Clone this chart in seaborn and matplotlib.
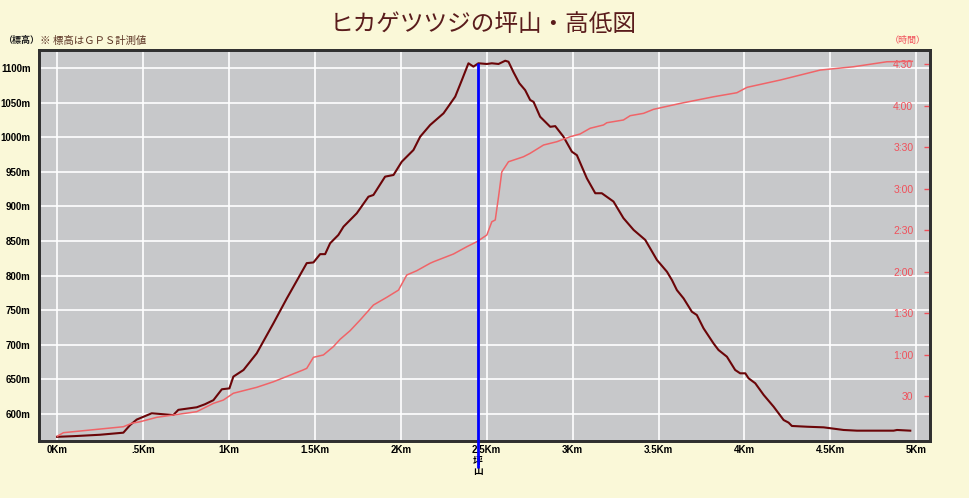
import matplotlib
matplotlib.use("Agg")
import matplotlib.pyplot as plt
import seaborn as sns
import pandas as pd

# ---------------- data ----------------
elev_km = [0.00, 0.10, 0.25, 0.386, 0.425, 0.464, 0.551, 0.60, 0.677, 0.706, 0.813, 0.86,
           0.91, 0.959, 1.003, 1.026, 1.085, 1.162, 1.259, 1.337, 1.453, 1.492, 1.531, 1.56,
           1.589, 1.637, 1.667, 1.744, 1.812, 1.841, 1.909, 1.958, 2.006, 2.074, 2.113, 2.171,
           2.249, 2.317, 2.356, 2.394, 2.423, 2.452, 2.501, 2.530, 2.569, 2.608, 2.627, 2.656,
           2.69, 2.724, 2.753, 2.773, 2.811, 2.870, 2.899, 2.947, 2.996, 3.025, 3.083, 3.132,
           3.170, 3.238, 3.296, 3.355, 3.423, 3.491, 3.549, 3.578, 3.607, 3.646, 3.694, 3.723,
           3.762, 3.82, 3.849, 3.898, 3.946, 3.975, 4.005, 4.024, 4.063, 4.112, 4.17, 4.228,
           4.257, 4.276, 4.364, 4.461, 4.577, 4.655, 4.868, 4.888, 4.965]
elev_m = [567, 568, 570, 573, 584, 592, 601, 600, 598.6, 606, 609.7, 614,
          620, 635.7, 637, 654, 663.6, 687.7, 731, 767, 818, 819, 831, 831,
          846.7, 858.7, 870.7, 890, 914, 916.5, 943, 945.4, 964.6, 981.5, 1000.7, 1017.6,
          1034.5, 1058.6, 1082.7, 1106.8, 1102, 1106.8, 1105.8, 1106.8, 1105.8, 1110.5, 1109, 1094,
          1078, 1068, 1053.8, 1051, 1029.6, 1015, 1016, 1000.7, 979, 974, 940.6, 919,
          919, 907, 883, 866, 851.5, 822.5, 805.6, 793.6, 779, 767, 747.8, 743,
          723.8, 702, 692.5, 682.8, 663.6, 658.8, 658.8, 651.6, 644.4, 627.5, 610.5, 591.3,
          587.5, 582.7, 581.6, 580.7, 576.9, 575.9, 575.9, 576.9, 575.9]

time_km = [0.002, 0.037, 0.386, 0.435, 0.483, 0.58, 0.677, 0.813, 0.91, 0.968, 1.026, 1.162,
           1.259, 1.431, 1.453, 1.492, 1.55, 1.608, 1.647, 1.705, 1.764, 1.841, 1.919, 1.987,
           2.035, 2.093, 2.171, 2.191, 2.307, 2.385, 2.443, 2.501, 2.530, 2.55, 2.569, 2.588,
           2.627, 2.714, 2.753, 2.831, 2.909, 2.986, 3.044, 3.102, 3.180, 3.199, 3.296, 3.335,
           3.413, 3.471, 3.627, 3.821, 3.956, 4.015, 4.209, 4.441, 4.635, 4.829, 4.977]
time_min = [1, 3.5, 7.8, 10.3, 11.4, 14.6, 16.3, 18.7, 24.7, 27.1, 32, 36.3,
            40.3, 48.8, 50, 58, 59.7, 65.7, 71, 77.2, 85, 95.8, 101.4, 106.6,
            117.5, 120.6, 126, 127.1, 132.7, 138, 141.6, 146.4, 156, 157.3, 174, 192,
            199.4, 203, 205.5, 211.5, 213.9, 217.5, 219.5, 223.6, 226, 227.6, 229.6, 232.7,
            234.4, 237.3, 241.6, 246.4, 249.3, 253.2, 258.5, 265.7, 268.1, 271.7, 272]

km_ticks = [0, 0.5, 1, 1.5, 2, 2.5, 3, 3.5, 4, 4.5, 5]
km_labels = ["0Km", ".5Km", "1Km", "1.5Km", "2Km", "2.5Km", "3Km", "3.5Km", "4Km", "4.5Km", "5Km"]
elev_ticks = [600, 650, 700, 750, 800, 850, 900, 950, 1000, 1050, 1100]
elev_labels = [f"{v}m" for v in elev_ticks]
time_ticks = [30, 60, 90, 120, 150, 180, 210, 240, 270]
time_labels = ["30", "1:00", "1:30", "2:00", "2:30", "3:00", "3:30", "4:00", "4:30"]

summit_km = 2.45
summit_m = 1107
summit_name = "坪\n山"

title = "ヒカゲツツジの坪山・高低図"
left_label = "（標高）"
note = "※ 標高はＧＰＳ計測値"
right_label = "（時間）"

# ---------------- style ----------------
CJK = ["Noto Sans CJK JP", "DejaVu Sans"]
BG = "#FAF8D8"
PLOT_BG = "#C7C8CA"
ELEV_C = "#6B0508"
TIME_C = "#F06468"
RED_T = "#F0505A"

elev_df = pd.DataFrame({"km": elev_km, "m": elev_m})
time_df = pd.DataFrame({"km": time_km, "min": time_min})

fig = plt.figure(figsize=(9.7, 4.98), dpi=100, facecolor=BG)
ax = fig.add_axes([0.0402, 0.1145, 0.9186, 0.7851])
ax.set_facecolor(PLOT_BG)
ax2 = ax.twinx()

ax.set_xlim(-0.105, 5.08)
ax.set_ylim(561, 1126)
ax2.set_ylim(-2.5, 280.2)

ax.grid(True, color="white", lw=1.2)
ax.set_axisbelow(True)

sns.lineplot(data=time_df, x="km", y="min", ax=ax2, color=TIME_C, lw=1.1,
             sort=False, estimator=None, legend=False)
sns.lineplot(data=elev_df, x="km", y="m", ax=ax, color=ELEV_C, lw=1.5,
             sort=False, estimator=None, legend=False)

ax2.vlines(summit_km, -22, (summit_m - 561) / (1126 - 561) * 282.7 - 2.5,
           colors="#0000FF", lw=2, clip_on=False, zorder=5)
ax.text(summit_km, 540, summit_name, ha="center", va="top", fontsize=7,
        family=CJK, fontweight="bold", linespacing=1.0, clip_on=False)

ax.set_xticks(km_ticks, labels=km_labels)
ax.set_yticks(elev_ticks, labels=elev_labels)
ax.tick_params(axis="x", length=0, pad=3, labelsize=7)
ax.tick_params(axis="y", length=0, pad=6, labelsize=7)
for lab in ax.get_xticklabels() + ax.get_yticklabels():
    lab.set_fontfamily("Liberation Sans")
    lab.set_fontweight("bold")
ax.set_xlabel("")
ax.set_ylabel("")

ax2.set_yticks(time_ticks, labels=time_labels)
ax2.tick_params(axis="y", direction="in", length=4.5, width=1, colors=RED_T,
                pad=-12, labelsize=7.5)
for lab in ax2.get_yticklabels():
    lab.set_horizontalalignment("right")
    lab.set_fontfamily("Liberation Sans")
ax2.set_ylabel("")

for a in (ax, ax2):
    for s in a.spines.values():
        s.set_color("#303030")
        s.set_linewidth(2)

fig.text(0.498, 0.95, title, ha="center", va="center", fontsize=17,
         color="#5A1C1C", family=CJK)
fig.text(0.003, 0.918, left_label, ha="left", va="center", fontsize=6.5,
         fontweight="bold", color="#202020", family=CJK)
fig.text(0.0412, 0.918, note, ha="left", va="center", fontsize=7.5,
         color="#5C3424", family=CJK)
fig.text(0.954, 0.918, right_label, ha="right", va="center", fontsize=6.5,
         color=RED_T, family=CJK)

fig.savefig("out.png", dpi=100, facecolor=BG)
